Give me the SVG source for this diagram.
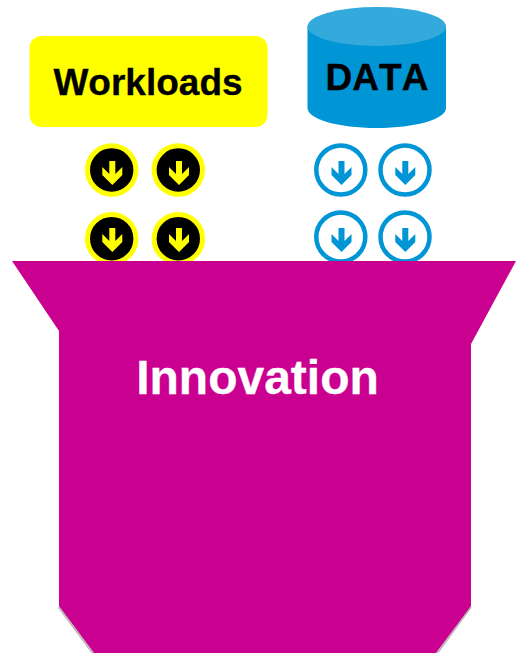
<svg xmlns="http://www.w3.org/2000/svg" width="516" height="653" viewBox="0 0 516 653">
<style>
text{font-family:"Liberation Sans",Arial,sans-serif;font-weight:700;text-anchor:middle;font-kerning:none}
.y circle{fill:#000;stroke:#ff0;stroke-width:5}
.y use{fill:#ff0}
.b circle{fill:#fff;stroke:#0095d5;stroke-width:4.500}
.b use{fill:#0095d5}
</style>
<defs>
<path id="arrow" d="M-3,-9H3V4L10,-3V5L0,15L-10,5V-3L-3,4Z"/>
</defs>
<g id="workloads"><rect x="29.500" y="36" width="238" height="91" rx="12" fill="#ff0"/><text x="148" y="95" font-size="37" stroke="#000" stroke-width="0.3">Workloads</text></g>
<g id="data">
<path d="M307.500,26V108C307.500,119 338,128 376.750,128S446,119 446,108V26Z" fill="#0095d5"/>
<ellipse cx="376.750" cy="26.500" rx="69.250" ry="19.500" fill="#33a9dc"/>
<text x="377" y="90" font-size="37" stroke="#000" stroke-width="0.3">DATA</text>
</g>
<g id="workload-arrows" class="y">
<g id="w1"><circle cx="111.700" cy="170" r="24.200"/><use href="#arrow" x="112.300" y="170"/></g>
<g id="w2"><circle cx="178.300" cy="170" r="24.200"/><use href="#arrow" x="179" y="170"/></g>
<g id="w3"><circle cx="111.700" cy="238.700" r="24.200"/><use href="#arrow" x="112.300" y="237"/></g>
<g id="w4"><circle cx="178.300" cy="238.700" r="24.200"/><use href="#arrow" x="179" y="237"/></g>
</g>
<g id="data-arrows" class="b">
<g id="d1"><circle cx="340.800" cy="170" r="24.500"/><use href="#arrow" x="341.500" y="170"/></g>
<g id="d2"><circle cx="405" cy="170" r="24.500"/><use href="#arrow" x="405.300" y="170"/></g>
<g id="d3"><circle cx="340.800" cy="237" r="24.500"/><use href="#arrow" x="341.500" y="237"/></g>
<g id="d4"><circle cx="405" cy="237" r="24.500"/><use href="#arrow" x="405.300" y="237"/></g>
</g>
<g id="innovation">
<path d="M58.500,607L93,653.500M471,607L437,653.500" stroke="#bbb" stroke-width="2" fill="none"/>
<polygon points="12,261 516,261 471,344 471,606 436,653 94,653 59,606 59,331" fill="#c90090"/>
<text x="257.500" y="394" font-size="48" fill="#fff" stroke="#fff" stroke-width="0.3">Innovation</text>
</g>
<g id="connectors"/>
</svg>
